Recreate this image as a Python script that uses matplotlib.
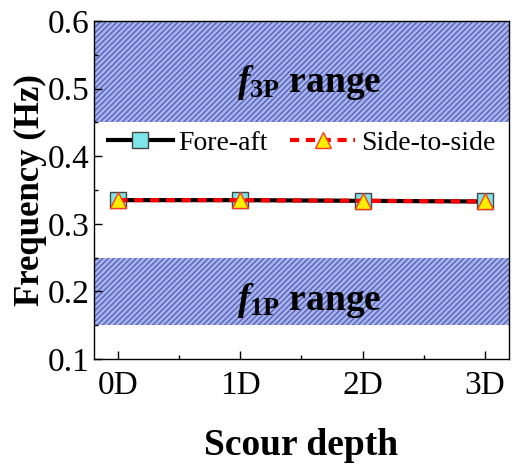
import numpy as np
import matplotlib
matplotlib.use("Agg")
import matplotlib.pyplot as plt
from matplotlib.ticker import MultipleLocator

plt.rcParams['font.family'] = ['Liberation Serif', 'DejaVu Serif']
plt.rcParams['mathtext.fontset'] = 'custom'
plt.rcParams['mathtext.rm'] = 'Liberation Serif'
plt.rcParams['mathtext.it'] = 'Liberation Serif:italic:bold'
plt.rcParams['mathtext.bf'] = 'Liberation Serif:bold'
plt.rcParams['hatch.linewidth'] = 1.0

# data
depth_labels = ['0D', '1D', '2D', '3D']
fore_aft = [0.335, 0.335, 0.334, 0.333]
side_to_side = [0.335, 0.335, 0.334, 0.333]
band_1p = (0.15, 0.25)
band_3p = (0.45, 0.60)

x = np.arange(len(depth_labels))

fig = plt.figure(figsize=(5.19, 4.71), dpi=100)
ax = fig.add_axes([94/519, 1-359/471, (509-94)/519, (359-21)/471])

for band in (band_3p, band_1p):
    ax.axhspan(band[0], band[1], facecolor='#a8b3f0', edgecolor='#5664b2',
               hatch='//////', linewidth=0, zorder=0)

ax.plot(x, fore_aft, color='black', lw=3, marker='s', ms=11,
        mfc='#7ee6ea', mec='#444444', mew=1, label='Fore-aft', zorder=3)
ax.plot(x, side_to_side, color='red', lw=3, ls=(0, (2.2, 1.6)), marker='^', ms=12,
        mfc='#ffee00', mec='#ff3b1f', mew=1, label='Side-to-side', zorder=4)

ax.text(1.56, 0.509, r'$\mathit{f}_{\mathbf{3P}}$ range', ha='center', va='center',
        fontsize=27, fontweight='bold')
ax.text(1.56, 0.187, r'$\mathit{f}_{\mathbf{1P}}$ range', ha='center', va='center',
        fontsize=27, fontweight='bold')

ax.set_xlim(-0.2, 3.2)
ax.set_ylim(0.1, 0.6)
ax.set_xticks(x)
ax.set_xticklabels(depth_labels)
ax.xaxis.set_minor_locator(MultipleLocator(0.5))
ax.yaxis.set_major_locator(MultipleLocator(0.1))
ax.yaxis.set_minor_locator(MultipleLocator(0.05))
ax.tick_params(which='both', direction='in', labelsize=24, width=1)
ax.tick_params(which='major', length=6)
ax.tick_params(which='minor', length=3)
ax.tick_params(axis='x', pad=8)
for s in ax.spines.values():
    s.set_linewidth(1)

ax.set_xlabel('Scour depth', fontsize=27, fontweight='bold', labelpad=20)
ax.set_ylabel('Frequency (Hz)', fontsize=25, fontweight='bold', labelpad=0)

ax.legend(loc='upper center', bbox_to_anchor=(0.5, 0.71), ncol=2, frameon=False,
          fontsize=20, handlelength=2.35, columnspacing=0.8, handletextpad=0.2,
          borderaxespad=0)

fig.savefig('out.png', dpi=100)
